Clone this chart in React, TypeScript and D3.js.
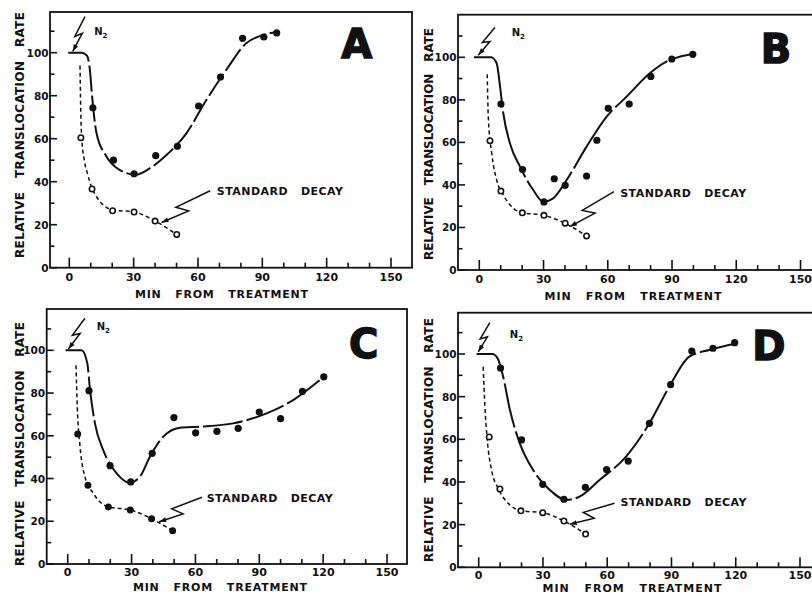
import React from "react";
import * as d3 from "d3";

type Pt = [number, number];

// ---- values: [minutes from treatment, relative rate] ----

// panel A
const aTreated: Pt[] = [[11, 74.4], [20.6, 50], [30.2, 43.7], [40.3, 52.1], [50.4, 56.5], [60.3, 75.2], [70.5, 88.7], [80.8, 106.7], [90.7, 107.3], [96.7, 109.2]];
const aDecay: Pt[] = [[5.4, 60.5], [10.6, 36.6], [20.2, 26.5], [30.2, 25.9], [40, 21.7], [50.1, 15.5]];
const aTreatedCurve: Pt[] = [[-0.5, 100], [6, 100], [8.3, 98.5], [9.6, 92], [10.6, 80], [12.7, 62.5], [17.4, 51.6], [23.6, 45.4], [31, 43.2], [37.5, 46.2], [45.3, 52.4], [54.6, 62.5], [63.9, 78], [73.2, 92], [82.5, 104.4], [90.2, 108.2], [96.5, 109.5]];
const aDecayCurve: Pt[] = [[5, 94], [5.3, 75], [5.7, 62], [7, 50], [8.4, 44], [10.6, 37], [12.7, 33], [16, 29], [20.5, 26.8], [30, 26], [40, 21.7], [50, 15.5]];

// panel B
const bTreated: Pt[] = [[10.1, 78], [20.2, 47.2], [30.2, 32], [35, 42.9], [40.1, 39.8], [50.1, 44.2], [54.9, 61], [60.2, 76], [70, 78], [80.1, 91], [89.9, 99.2], [99.7, 101.4]];
const bDecay: Pt[] = [[5, 60.8], [10.1, 37.1], [20.1, 26.9], [30.2, 25.7], [40.1, 22], [50.1, 16]];
const bTreatedCurve: Pt[] = [[-2.5, 100], [5.5, 100], [8.1, 97.2], [9.7, 86.2], [11.2, 73.7], [14.3, 59.6], [19, 48.6], [25.2, 37.6], [29.9, 32.1], [34.5, 33.7], [40.8, 42.3], [50.1, 58], [59.4, 72], [68.8, 81.5], [79.6, 92.5], [87.4, 98], [93.6, 100.3], [99.7, 101.4]];
const bDecayCurve: Pt[] = [[3.7, 92], [4.2, 72], [5.8, 54.9], [8.1, 42.3], [11.2, 35.3], [15.9, 29], [20, 27], [30, 25.7], [40, 22], [50, 16]];

// panel C
const cTreated: Pt[] = [[10, 81.1], [19.9, 46], [29.6, 38.4], [39.7, 51.8], [49.9, 68.5], [60.1, 61.4], [70.1, 62.1], [80.1, 63.5], [90, 71.1], [100, 68], [110.3, 80.8], [120.3, 87.6]];
const cDecay: Pt[] = [[4.7, 60.8], [9.5, 36.8], [19.1, 26.7], [29.4, 25.3], [39.4, 21.2], [49.3, 15.6]];
const cTreatedCurve: Pt[] = [[-1, 100], [6.5, 100], [9.2, 94], [10.5, 81.4], [12.8, 65.8], [16.7, 53.3], [23, 42.4], [29.2, 38], [33.9, 40.8], [38.6, 50.2], [44.9, 59.6], [52.7, 63.8], [62.1, 64.3], [77.7, 65.8], [93.4, 70.5], [105.9, 76.7], [118.5, 86.1]];
const cDecayCurve: Pt[] = [[3.9, 93], [4.5, 73.6], [5.8, 54.9], [8.1, 40.8], [12, 33.1], [19, 26.7], [29.4, 25.3], [39.4, 21.2], [49.3, 15.6]];

// panel D
const dTreated: Pt[] = [[10.2, 93.4], [20, 59.7], [29.9, 38.9], [39.8, 31.9], [49.8, 37.5], [59.7, 45.8], [69.8, 49.8], [79.7, 67.5], [89.6, 85.6], [99.5, 101.4], [109.4, 102.7], [119.5, 105.3]];
const dDecay: Pt[] = [[4.9, 61.1], [9.9, 36.7], [19.7, 26.5], [29.9, 25.6], [39.8, 21.7], [49.9, 15.6]];
const dTreatedCurve: Pt[] = [[-1, 100], [6.5, 100], [9.2, 97.2], [11.4, 89.4], [14.6, 73.7], [19.2, 58.1], [25.4, 45.6], [33.2, 36.2], [40.9, 31.6], [47.1, 33.1], [56.4, 40.9], [68.8, 51.9], [79.7, 67.5], [89, 84.7], [98.3, 98.8], [107.6, 101.9], [119.5, 104.8]];
const dDecayCurve: Pt[] = [[2.1, 94], [2.9, 75.3], [4, 59.7], [6, 45.6], [9.1, 37], [14.6, 29.2], [19.7, 26.5], [29.9, 25.6], [39.8, 21.7], [49.9, 15.6]];

// ---- axis ticks ----
const xTickLabels = [0, 30, 60, 90, 120, 150];
const xMinorTicks = [0, 10, 20, 30, 40, 50, 60, 70, 80, 90, 100, 110, 120, 130, 140, 150];
const yTickLabels = [0, 20, 40, 60, 80, 100];
const yMinorTicks = [0, 10, 20, 30, 40, 50, 60, 70, 80, 90, 100, 110];

const ink = "#111";
const font = "'DejaVu Sans', Verdana, sans-serif";

const panels = [
  {
    letter: "A", letterAt: [134, 97.4] as Pt,
    x0: 69.3, x150: 391, y0: 267.7, y100: 52.7,
    frame: { left: 50, top: 12, right: 412 },
    treated: aTreated, decay: aDecay, treatedCurve: aTreatedCurve, decayCurve: aDecayCurve,
    upperDash: "26 4", openFill: "#fff",
    n2From: [7.3, 116.8] as Pt, n2To: [1.6, 100.6] as Pt, n2At: [11.6, 108.2] as Pt,
    sdFrom: [65.7, 35.8] as Pt, sdTo: [43, 21] as Pt, sdAt: [68.8, 34] as Pt,
    yTitle: { x: 19, top: 12, bottom: 258 },
    xTitle: { cx: 221.5, w: 173, dy: 30.5 }, tickDy: 13.5,
  },
  {
    letter: "B", letterAt: [138.6, 97.2] as Pt,
    x0: 479.3, x150: 800.5, y0: 270, y100: 57.3,
    frame: { left: 458, top: 14.7, right: 840 },
    treated: bTreated, decay: bDecay, treatedCurve: bTreatedCurve, decayCurve: bDecayCurve,
    upperDash: "70 4", openFill: "#fff",
    n2From: [7.3, 114] as Pt, n2To: [-0.5, 101] as Pt, n2At: [15.1, 109.8] as Pt,
    sdFrom: [62.9, 36.8] as Pt, sdTo: [42.3, 20.4] as Pt, sdAt: [65.8, 34.3] as Pt,
    yTitle: { x: 428, top: 28, bottom: 260 },
    xTitle: { cx: 633, w: 177, dy: 30 }, tickDy: 13,
  },
  {
    letter: "C", letterAt: [139, 96.4] as Pt,
    x0: 67.7, x150: 387, y0: 564, y100: 350.3,
    frame: { left: 46.7, top: 309, right: 407 },
    treated: cTreated, decay: cDecay, treatedCurve: cTreatedCurve, decayCurve: cDecayCurve,
    upperDash: "40 4", openFill: ink,
    n2From: [8.1, 115] as Pt, n2To: [0.3, 100.6] as Pt, n2At: [13.6, 109.5] as Pt,
    sdFrom: [63.1, 31.2] as Pt, sdTo: [43, 19.8] as Pt, sdAt: [65.3, 28.8] as Pt,
    yTitle: { x: 19, top: 322, bottom: 566 },
    xTitle: { cx: 220, w: 174, dy: 27 }, tickDy: 12.3,
  },
  {
    letter: "D", letterAt: [135.5, 97.2] as Pt,
    x0: 478.7, x150: 800, y0: 567.3, y100: 354,
    frame: { left: 458, top: 312.7, right: 840 },
    treated: dTreated, decay: dDecay, treatedCurve: dTreatedCurve, decayCurve: dDecayCurve,
    upperDash: "45 4", openFill: "#fff",
    n2From: [5.2, 114.7] as Pt, n2To: [-0.2, 101] as Pt, n2At: [14.5, 107.5] as Pt,
    sdFrom: [63.4, 30] as Pt, sdTo: [42.5, 20.2] as Pt, sdAt: [66.2, 28.7] as Pt,
    yTitle: { x: 428, top: 318, bottom: 562 },
    xTitle: { cx: 632, w: 179, dy: 25 }, tickDy: 11.8,
  },
];

type PanelCfg = (typeof panels)[number];

// jagged "lightning" pointer with an arrowhead at the tip
function bolt(s: Pt, t: Pt, jog: number, at = 0.5) {
  const dx = t[0] - s[0], dy = t[1] - s[1];
  const len = Math.hypot(dx, dy);
  const px = -dy / len, py = dx / len;
  const a: Pt = [s[0] + dx * (at + 0.1) + px * jog, s[1] + dy * (at + 0.1) + py * jog];
  const b: Pt = [s[0] + dx * (at - 0.05) - px * jog, s[1] + dy * (at - 0.05) - py * jog];
  const ux = (t[0] - b[0]) / Math.hypot(t[0] - b[0], t[1] - b[1]);
  const uy = (t[1] - b[1]) / Math.hypot(t[0] - b[0], t[1] - b[1]);
  const head = `M${t[0]},${t[1]}L${t[0] - ux * 7 - uy * 2.5},${t[1] - uy * 7 + ux * 2.5}L${t[0] - ux * 7 + uy * 2.5},${t[1] - uy * 7 - ux * 2.5}Z`;
  return { path: `M${s[0]},${s[1]}L${a[0]},${a[1]}L${b[0]},${b[1]}L${t[0]},${t[1]}`, head };
}

function Panel({ p }: { p: PanelCfg }) {
  const x = d3.scaleLinear().domain([0, 150]).range([p.x0, p.x150]);
  const y = d3.scaleLinear().domain([0, 100]).range([p.y0, p.y100]);
  const line = d3.line<Pt>().x((d) => x(d[0])).y((d) => y(d[1])).curve(d3.curveMonotoneX);
  const f = p.frame;
  const n2 = bolt([x(p.n2From[0]), y(p.n2From[1])], [x(p.n2To[0]), y(p.n2To[1])], 3, 0.5);
  const sd = bolt([x(p.sdFrom[0]), y(p.sdFrom[1])], [x(p.sdTo[0]), y(p.sdTo[1])], 5, 0.55);
  const yMid = (p.yTitle.top + p.yTitle.bottom) / 2;

  return (
    <g>
      <rect x={f.left} y={f.top} width={f.right - f.left} height={p.y0 - f.top} fill="none" stroke={ink} strokeWidth={1.8} />

      {xMinorTicks.map((t) => (
        <line key={"xt" + t} x1={x(t)} x2={x(t)} y1={p.y0} y2={p.y0 - (xTickLabels.includes(t) ? 10 : 5)} stroke={ink} strokeWidth={1.6} />
      ))}
      {xTickLabels.map((t) => (
        <text key={"xl" + t} x={x(t)} y={p.y0 + p.tickDy} textAnchor="middle" fontSize={11} fontWeight="bold" fontFamily={font} fill={ink}>
          {t}
        </text>
      ))}
      {yMinorTicks.map((v) => (
        <line key={"yt" + v} x1={f.left} x2={f.left + (yTickLabels.includes(v) ? 7 : 4.5)} y1={y(v)} y2={y(v)} stroke={ink} strokeWidth={1.6} />
      ))}
      {yTickLabels.map((v) => (
        <text key={"yl" + v} x={f.left - 1.5} y={y(v) + 4} textAnchor="end" fontSize={10.5} fontWeight="bold" fontFamily={font} fill={ink}>
          {v}
        </text>
      ))}

      <text
        transform={`translate(${p.yTitle.x + 4.5},${yMid}) rotate(-90)`}
        textAnchor="middle" fontSize={12} fontWeight="bold" fontFamily={font} fill={ink}
        textLength={p.yTitle.bottom - p.yTitle.top} lengthAdjust="spacing"
      >
        {"RELATIVE\u00a0\u00a0\u00a0TRANSLOCATION\u00a0\u00a0\u00a0RATE"}
      </text>
      <text
        x={p.xTitle.cx - p.xTitle.w / 2} y={p.y0 + p.xTitle.dy}
        fontSize={11} fontWeight="bold" fontFamily={font} fill={ink}
        textLength={p.xTitle.w} lengthAdjust="spacing"
      >
        {"MIN\u00a0\u00a0\u00a0FROM\u00a0\u00a0\u00a0TREATMENT"}
      </text>

      <path d={line(p.treatedCurve) ?? ""} fill="none" stroke={ink} strokeWidth={2} strokeDasharray={p.upperDash} />
      <path d={line(p.decayCurve) ?? ""} fill="none" stroke={ink} strokeWidth={1.5} strokeDasharray="4 3" />

      {p.treated.map((d, i) => (
        <circle key={"f" + i} cx={x(d[0])} cy={y(d[1])} r={3.6} fill={ink} />
      ))}
      {p.decay.map((d, i) => (
        <circle key={"o" + i} cx={x(d[0])} cy={y(d[1])} r={2.7} fill={p.openFill} stroke={ink} strokeWidth={1.6} />
      ))}

      <path d={n2.path} fill="none" stroke={ink} strokeWidth={1.5} />
      <path d={n2.head} fill={ink} />
      <text x={x(p.n2At[0])} y={y(p.n2At[1])} fontSize={10} fontWeight="bold" fontFamily={font} fill={ink}>
        N<tspan dy={3} fontSize={7}>2</tspan>
      </text>

      <path d={sd.path} fill="none" stroke={ink} strokeWidth={1.5} />
      <path d={sd.head} fill={ink} />
      <text
        x={x(p.sdAt[0])} y={y(p.sdAt[1])} fontSize={11} fontWeight="bold" fontFamily={font} fill={ink}
        textLength={126} lengthAdjust="spacing"
      >
        {"STANDARD\u00a0\u00a0\u00a0DECAY"}
      </text>

      <text
        x={x(p.letterAt[0])} y={y(p.letterAt[1])} textAnchor="middle" fontSize={40} fontWeight={900}
        fontFamily={font} fill={ink} stroke={ink} strokeWidth={1.5}
      >
        {p.letter}
      </text>
    </g>
  );
}

export default function App() {
  return (
    <svg
      width={812}
      height={598}
      style={{ position: "absolute", left: 0, top: 0, display: "block", background: "#fff" }}
    >
      <rect width={812} height={598} fill="#fff" />
      {panels.map((p) => (
        <Panel key={p.letter} p={p} />
      ))}
    </svg>
  );
}
